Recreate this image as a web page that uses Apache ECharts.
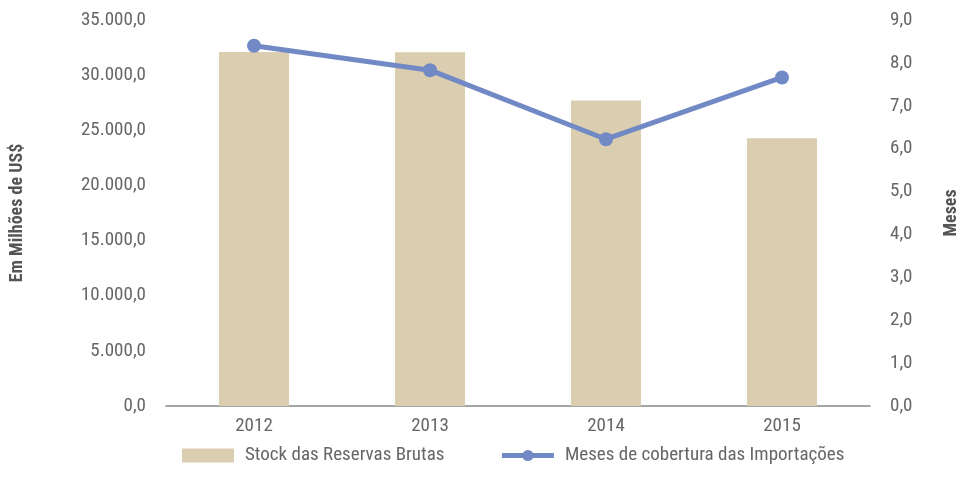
<!DOCTYPE html>
<html>
<head>
<meta charset="utf-8">
<script src="https://cdn.jsdelivr.net/npm/echarts@6/dist/echarts.min.js"></script>
<style>
  html, body { margin: 0; padding: 0; background: #fff; }
  #chart { width: 960px; height: 492px; }
</style>
</head>
<body>
<div id="chart"></div>
<script>
var anos = ['2012', '2013', '2014', '2015'];
var reservas = [32100, 32070, 27700, 24280];
var mesesCobertura = [8.40, 7.83, 6.22, 7.66];

var fonte = '"Roboto Condensed", "Liberation Sans Narrow", "DejaVu Sans Condensed", sans-serif';

function fmt(v, dec) {
  var s = v.toFixed(dec).split('.');
  s[0] = s[0].replace(/\B(?=(\d{3})+(?!\d))/g, '.');
  return s.join(',');
}

var myChart = echarts.init(document.getElementById('chart'));
var option = {
  animation: false,
  textStyle: { fontFamily: fonte },
  grid: { left: 166, right: 90, top: 20, bottom: 86, outerBoundsMode: 'none' },
  legend: {
    bottom: 22,
    left: 177,
    itemGap: 55,
    itemWidth: 52,
    itemHeight: 14,
    textStyle: { fontSize: 19, color: '#666', fontFamily: fonte, padding: [0, 0, 0, 6] },
    data: [
      { name: 'Stock das Reservas Brutas', icon: 'rect', itemStyle: { color: '#dbcdb0' } },
      { name: 'Meses de cobertura das Importações', lineStyle: { width: 5 } }
    ]
  },
  xAxis: {
    type: 'category',
    data: anos,
    axisLine: { lineStyle: { color: '#888', width: 1.5 } },
    axisTick: { show: false },
    axisLabel: { fontSize: 19, color: '#666', margin: 11, fontFamily: fonte }
  },
  yAxis: [
    {
      type: 'value',
      min: 0, max: 35000, interval: 5000,
      name: 'Em Milhões de US$',
      nameLocation: 'middle',
      nameGap: 140,
      nameTextStyle: { fontSize: 18, fontWeight: 'bold', color: '#555', fontFamily: fonte },
      splitLine: { show: false },
      axisLine: { show: false },
      axisTick: { show: false },
      axisLabel: { fontSize: 19, color: '#666', margin: 20, fontFamily: fonte,
        formatter: function (v) { return fmt(v, 1); } }
    },
    {
      type: 'value',
      min: 0, max: 9, interval: 1,
      name: 'Meses',
      nameLocation: 'middle',
      nameGap: 72,
      nameTextStyle: { fontSize: 18, fontWeight: 'bold', color: '#555', fontFamily: fonte },
      splitLine: { show: false },
      axisLine: { show: false },
      axisTick: { show: false },
      axisLabel: { fontSize: 19, color: '#666', margin: 20, fontFamily: fonte,
        formatter: function (v) { return fmt(v, 1); } }
    }
  ],
  series: [
    {
      name: 'Stock das Reservas Brutas',
      type: 'bar',
      data: reservas,
      barWidth: 70,
      itemStyle: { color: '#dbcdb0' }
    },
    {
      name: 'Meses de cobertura das Importações',
      type: 'line',
      yAxisIndex: 1,
      data: mesesCobertura,
      symbol: 'circle',
      symbolSize: 14,
      lineStyle: { color: '#7189c4', width: 5 },
      itemStyle: { color: '#7189c4' }
    }
  ]
};
myChart.setOption(option);
</script>
</body>
</html>
